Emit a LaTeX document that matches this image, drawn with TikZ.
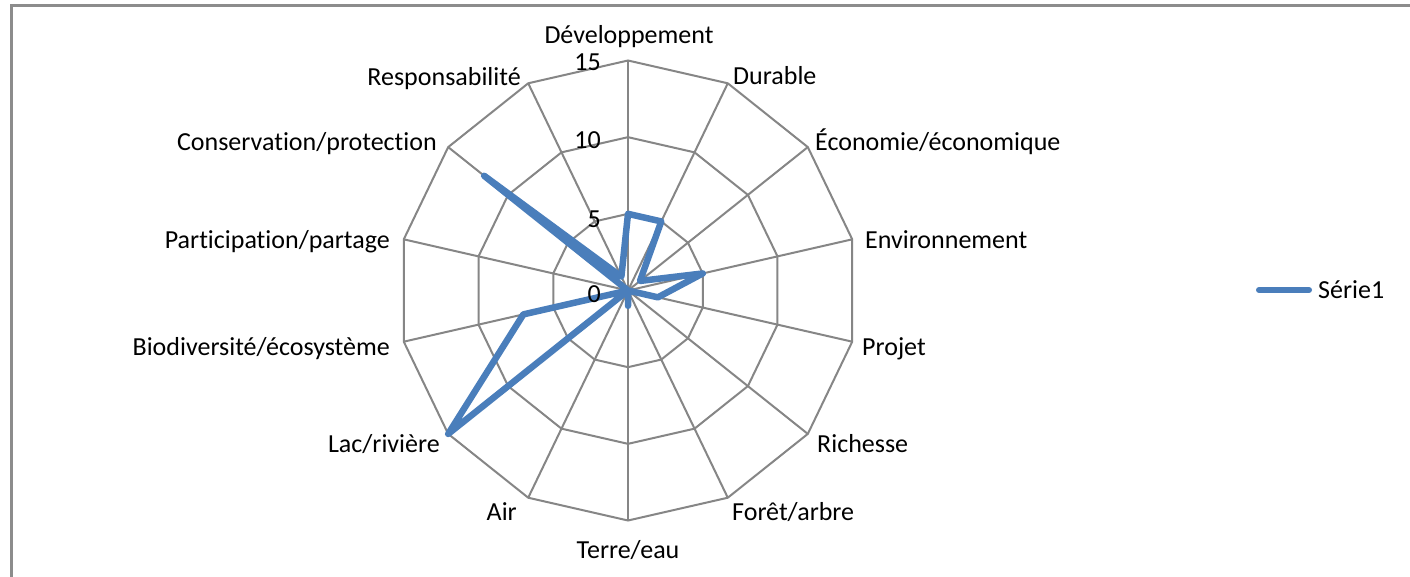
\documentclass[tikz,border=0pt]{standalone}
\usepackage{fontspec}
\setmainfont{Carlito}[Ligatures={NoCommon}]
\definecolor{gridgray}{HTML}{868686}
\definecolor{framegray}{HTML}{8C8C8C}
\definecolor{serie}{HTML}{4A7EBB}
\begin{document}
\begin{tikzpicture}[x=1pt,y=-1pt,
  lbl/.style={font=\fontsize{26}{30}\selectfont, inner sep=0pt},
  gridline/.style={draw=gridgray, line width=2pt},
  serieline/.style={draw=serie, line width=6.5pt, line join=round}]
\useasboundingbox (0,0) rectangle (1410,576);
\clip (0,0) rectangle (1410,576);
\fill[white] (0,0) rectangle (1410,576);
\draw[framegray, line width=3pt] (11,5) rectangle (1440,600);
\begin{scope}[shift={(628,290.5)}]
  \foreach \r in {76.667,153.333,230}
    \draw[gridline] (0,-\r) \foreach \i in {1,...,13}{ -- ({\r*sin(\i*360/14)},{-\r*cos(\i*360/14)})} -- cycle;
  \coordinate (c) at (0,0);
  \foreach \i in {0,...,13}
    \coordinate (s\i) at ({230*sin(\i*360/14)},{-230*cos(\i*360/14)});
  \foreach \i in {0,...,13}
    \draw[gridline] (c) -- (s\i);
  \foreach \v [count=\i from 0] in {5,5,1,5,2,0,0,1,0,15,7,0,12,1}
    \coordinate (d\i) at ({\v*230/15*sin(\i*360/14)},{-\v*230/15*cos(\i*360/14)});
  \draw[serieline] (d0) -- (d1) -- (d2) -- (d3) -- (d4) -- (d5) -- (d6) -- (d7)
    -- (d8) -- (d9) -- (d10) -- (d11) -- (d12) -- (d13) -- cycle;
\end{scope}
% tick labels
\node[lbl, anchor=base east] (t15) at (601,70.5) {15};
\node[lbl, anchor=base east] (t10) at (601,148) {10};
\node[lbl, anchor=base east] (t5) at (601,227) {5};
\node[lbl, anchor=base east] (t0) at (601,302) {0};
% axis labels
\node[lbl, anchor=base] (l0) at (629,43) {Développement};
\node[lbl, anchor=base west] (l1) at (733,84) {Durable};
\node[lbl, anchor=base west] (l2) at (815,150) {Économie/économique};
\node[lbl, anchor=base west] (l3) at (865,248) {Environnement};
\node[lbl, anchor=base west] (l4) at (862,355) {Projet};
\node[lbl, anchor=base west] (l5) at (817,452) {Richesse};
\node[lbl, anchor=base west] (l6) at (732,520) {Forêt/arbre};
\node[lbl, anchor=base] (l7) at (628,558) {Terre/eau};
\node[lbl, anchor=base east] (l8) at (517,520) {Air};
\node[lbl, anchor=base east] (l9) at (440,452) {Lac/rivière};
\node[lbl, anchor=base east] (l10) at (390,355) {Biodiversité/écosystème};
\node[lbl, anchor=base east] (l11) at (390,248) {Participation/partage};
\node[lbl, anchor=base east] (l12) at (437,150) {Conservation/protection};
\node[lbl, anchor=base east] (l13) at (521,85) {Responsabilité};
% legend
\coordinate (lg1) at (1259,290);
\coordinate (lg2) at (1309,290);
\draw[draw=serie, line width=6pt, line cap=round] (lg1) -- (lg2);
\node[lbl, anchor=west] (leg) at (1318,290) {Série1};
\end{tikzpicture}
\end{document}
